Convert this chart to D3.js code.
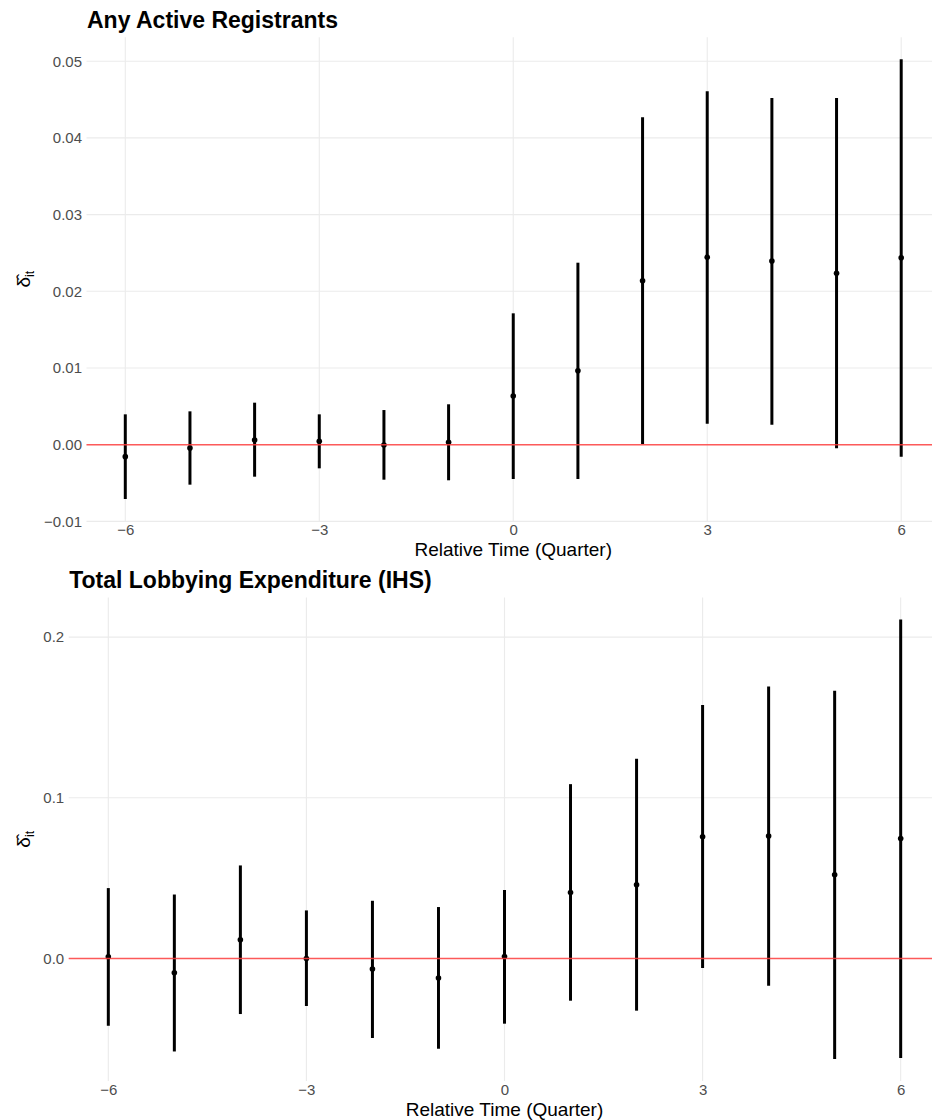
<!DOCTYPE html>
<html><head><meta charset="utf-8">
<script src="https://cdn.jsdelivr.net/npm/d3@7"></script>
<style>body{margin:0;background:#fff} svg{display:block}</style>
</head><body>
<script>
const relTime = [-6,-5,-4,-3,-2,-1,0,1,2,3,4,5,6];
const registrantsEst  = [-0.00156,-0.00043,0.00061,0.00044,-0.00004,0.00031,0.00635,0.00965,0.02138,0.02443,0.02395,0.02235,0.02438];
const registrantsLow  = [-0.00708,-0.00521,-0.00417,-0.00308,-0.00456,-0.00464,-0.00447,-0.00447,0.0001,0.00274,0.0026,-0.00047,-0.00156];
const registrantsHigh = [0.00396,0.00435,0.00548,0.00396,0.00452,0.00527,0.01713,0.02373,0.04269,0.04608,0.0452,0.0452,0.05025];
const lobbyingEst  = [0.0011,-0.0089,0.0116,0.0000,-0.0066,-0.0122,0.0012,0.0411,0.0459,0.0757,0.0762,0.0521,0.0747];
const lobbyingLow  = [-0.0419,-0.0579,-0.0346,-0.0296,-0.0495,-0.0562,-0.0406,-0.0263,-0.0325,-0.0060,-0.0170,-0.0626,-0.0620];
const lobbyingHigh = [0.0438,0.0398,0.0579,0.0299,0.0359,0.0320,0.0426,0.1085,0.1243,0.1577,0.1693,0.1666,0.2110];
const xTicks = [-6,-3,0,3,6];
const registrantsTicks = [-0.01,0,0.01,0.02,0.03,0.04,0.05];
const lobbyingTicks = [0,0.1,0.2];
const panelTitles = ["Any Active Registrants","Total Lobbying Expenditure (IHS)"];
const xTitle = "Relative Time (Quarter)";

const W = 932, H = 1120;
const FONT = "'Liberation Sans', Arial, Helvetica, sans-serif";
const svg = d3.select("body").append("svg").attr("width", W).attr("height", H)
  .style("font-family", FONT);

const panels = [
  {title: panelTitles[0], est: registrantsEst, lo: registrantsLow, hi: registrantsHigh,
   ticks: registrantsTicks, fmt: d3.format(".2f"),
   box: {left: 86.5, right: 940, top: 37.3, bottom: 521}},
  {title: panelTitles[1], est: lobbyingEst, lo: lobbyingLow, hi: lobbyingHigh,
   ticks: lobbyingTicks, fmt: d3.format(".1f"),
   box: {left: 68.7, right: 940.3, top: 597.5, bottom: 1081}}
];

panels.forEach(p => {
  const b = p.box;
  const xr = d3.extent(relTime), xe = (xr[1]-xr[0])*0.05;
  const x = d3.scaleLinear().domain([xr[0]-xe, xr[1]+xe]).range([b.left, b.right]);
  const ymin = d3.min(p.lo), ymax = d3.max(p.hi), ye = (ymax-ymin)*0.05;
  const y = d3.scaleLinear().domain([ymin-ye, ymax+ye]).range([b.bottom, b.top]);
  const g = svg.append("g");

  // gridlines
  g.append("g").selectAll("line").data(p.ticks).join("line")
    .attr("x1", b.left).attr("x2", b.right)
    .attr("y1", d => y(d)).attr("y2", d => y(d))
    .attr("stroke", "#ebebeb").attr("stroke-width", 1.1);
  g.append("g").selectAll("line").data(xTicks).join("line")
    .attr("y1", b.top).attr("y2", b.bottom)
    .attr("x1", d => x(d)).attr("x2", d => x(d))
    .attr("stroke", "#ebebeb").attr("stroke-width", 1.1);

  // axes via d3 axis (no domain / tick lines)
  const ya = g.append("g").attr("transform", `translate(${b.left},0)`)
    .call(d3.axisLeft(y).tickValues(p.ticks).tickFormat(p.fmt).tickSize(0).tickPadding(4.5));
  ya.select(".domain").remove();
  ya.selectAll("text").attr("fill", "#4d4d4d").style("font-size", "15px").style("font-family", FONT);

  const xa = g.append("g").attr("transform", `translate(0,${b.bottom})`)
    .call(d3.axisBottom(x).tickValues(xTicks).tickFormat(d3.format("d")).tickSize(0).tickPadding(3.5));
  xa.select(".domain").remove();
  xa.selectAll("text").attr("fill", "#4d4d4d").style("font-size", "15px").style("font-family", FONT);

  const rows = relTime.map((t, i) => ({t, est: p.est[i], lo: p.lo[i], hi: p.hi[i]}));

  g.append("g").selectAll("line").data(rows).join("line")
    .attr("x1", d => x(d.t)).attr("x2", d => x(d.t))
    .attr("y1", d => y(d.lo)).attr("y2", d => y(d.hi))
    .attr("stroke", "#000").attr("stroke-width", 3);
  g.append("g").selectAll("circle").data(rows).join("circle")
    .attr("cx", d => x(d.t)).attr("cy", d => y(d.est)).attr("r", 2.8)
    .attr("fill", "#000");

  g.append("line").attr("x1", b.left).attr("x2", b.right)
    .attr("y1", y(0)).attr("y2", y(0))
    .attr("stroke", "#ff4040").attr("stroke-opacity", 0.85).attr("stroke-width", 1.4);

  // titles
  g.append("text").attr("x", b.left + 0.5).attr("y", b.top - 9.5)
    .attr("font-weight", "bold").style("font-size", "23px").attr("fill", "#000")
    .text(p.title);
  g.append("text").attr("x", (b.left + b.right)/2).attr("y", b.bottom + 35)
    .attr("text-anchor", "middle").style("font-size", "19px").attr("fill", "#000")
    .text(xTitle);

  const yt = g.append("text")
    .attr("transform", `translate(30,${(b.top + b.bottom)/2}) rotate(-90)`)
    .attr("text-anchor", "middle").style("font-size", "19px").attr("fill", "#000");
  yt.append("tspan").text("\u03B4\u0302");
  yt.append("tspan").attr("dy", 4).style("font-size", "12.5px").text("it");
});
</script>
</body></html>
